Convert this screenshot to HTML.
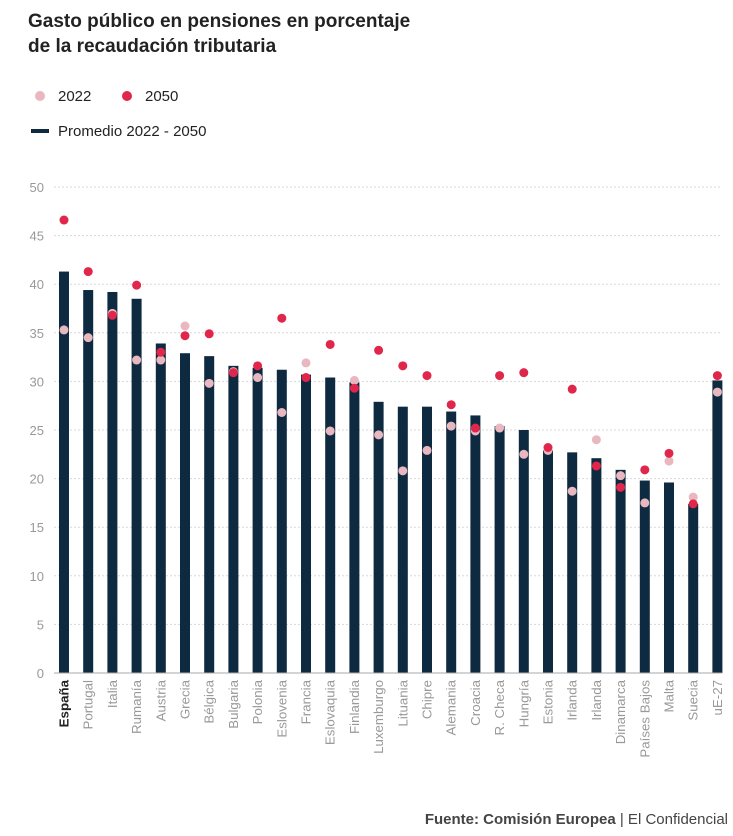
<!DOCTYPE html>
<html><head><meta charset="utf-8"><style>
body{margin:0;background:#fff;font-family:"Liberation Sans",sans-serif;}
</style></head><body>
<svg width="733" height="836" style="display:block">
<text x="28" y="27" font-size="19" font-weight="bold" fill="#222">Gasto público en pensiones en porcentaje</text>
<text x="28" y="52" font-size="19" font-weight="bold" fill="#222">de la recaudación tributaria</text>
<g>
<circle cx="40" cy="96" r="5" fill="#e8b7c0"/>
<text x="58" y="101" font-size="15" fill="#222">2022</text>
<circle cx="127" cy="96" r="5" fill="#e0264a"/>
<text x="145" y="101" font-size="15" fill="#222">2050</text>
<rect x="31" y="129" width="18" height="4" fill="#0e2a40"/>
<text x="58" y="136" font-size="15" fill="#222">Promedio 2022 - 2050</text>
</g>
<g id="plot"></g>
<text x="728" y="824" font-size="15" text-anchor="end" fill="#444"><tspan font-weight="bold">Fuente: Comisión Europea</tspan> | El Confidencial</text>
</svg>
<script>
const categories=["España","Portugal","Italia","Rumanía","Austria","Grecia","Bélgica","Bulgaria","Polonia","Eslovenia","Francia","Eslovaquia","Finlandia","Luxemburgo","Lituania","Chipre","Alemania","Croacia","R. Checa","Hungría","Estonia","Irlanda","Irlanda","Dinamarca","Países Bajos","Malta","Suecia","uE-27"];
const avgValues=[41.3,39.4,39.2,38.5,33.9,32.9,32.6,31.6,31.4,31.2,30.7,30.4,29.9,27.9,27.4,27.4,26.9,26.5,25.4,25.0,22.9,22.7,22.1,20.9,19.8,19.6,17.4,30.1];
const values2022=[35.3,34.5,37.0,32.2,32.2,35.7,29.8,31.0,30.4,26.8,31.9,24.9,30.1,24.5,20.8,22.9,25.4,24.9,25.2,22.5,22.9,18.7,24.0,20.3,17.5,21.8,18.1,28.9];
const values2050=[46.6,41.3,36.8,39.9,33.0,34.7,34.9,30.9,31.6,36.5,30.4,33.8,29.3,33.2,31.6,30.6,27.6,25.2,30.6,30.9,23.2,29.2,21.3,19.1,20.9,22.6,17.4,30.6];
const yTicks=[0,5,10,15,20,25,30,35,40,45,50];
const NS="http://www.w3.org/2000/svg";
const g=document.getElementById('plot');
const y=v=>673-v*9.72;
const x=i=>64+i*24.2;
function mk(t,a){const e=document.createElementNS(NS,t);for(const k in a)e.setAttribute(k,a[k]);g.appendChild(e);return e;}
yTicks.forEach(t=>{
  if(t>0){const l=mk('line',{x1:54,x2:722,y1:y(t),y2:y(t),stroke:'#d8d8d8','stroke-dasharray':'2,2'});
  
  }
  const tx=mk('text',{x:44,y:y(t)+5,'font-size':13,'text-anchor':'end',fill:'#999'});tx.textContent=t;
  
  
});
categories.forEach((c,i)=>{
  const b=mk('rect',{x:x(i)-5,y:y(avgValues[i]),width:10,height:673-y(avgValues[i]),fill:'#0e2a40'});
  
  
  const lb=mk('text',{transform:`translate(${x(i)+4.5},680) rotate(-90)`,'font-size':13.3,'text-anchor':'end',fill:i==0?'#222':'#999','font-weight':i==0?'bold':'normal'});
  lb.textContent=c;
  
  
});
const ax=mk('line',{x1:54,x2:722,y1:673,y2:673,stroke:'#aaa','stroke-width':1});


categories.forEach((c,i)=>{
  const p=mk('circle',{cx:x(i),cy:y(values2022[i]),r:4.5,fill:'#e8b7c0'});
  
  
});
categories.forEach((c,i)=>{
  const p=mk('circle',{cx:x(i),cy:y(values2050[i]),r:4.5,fill:'#e0264a'});
  
  
});
</script>
</body></html>
